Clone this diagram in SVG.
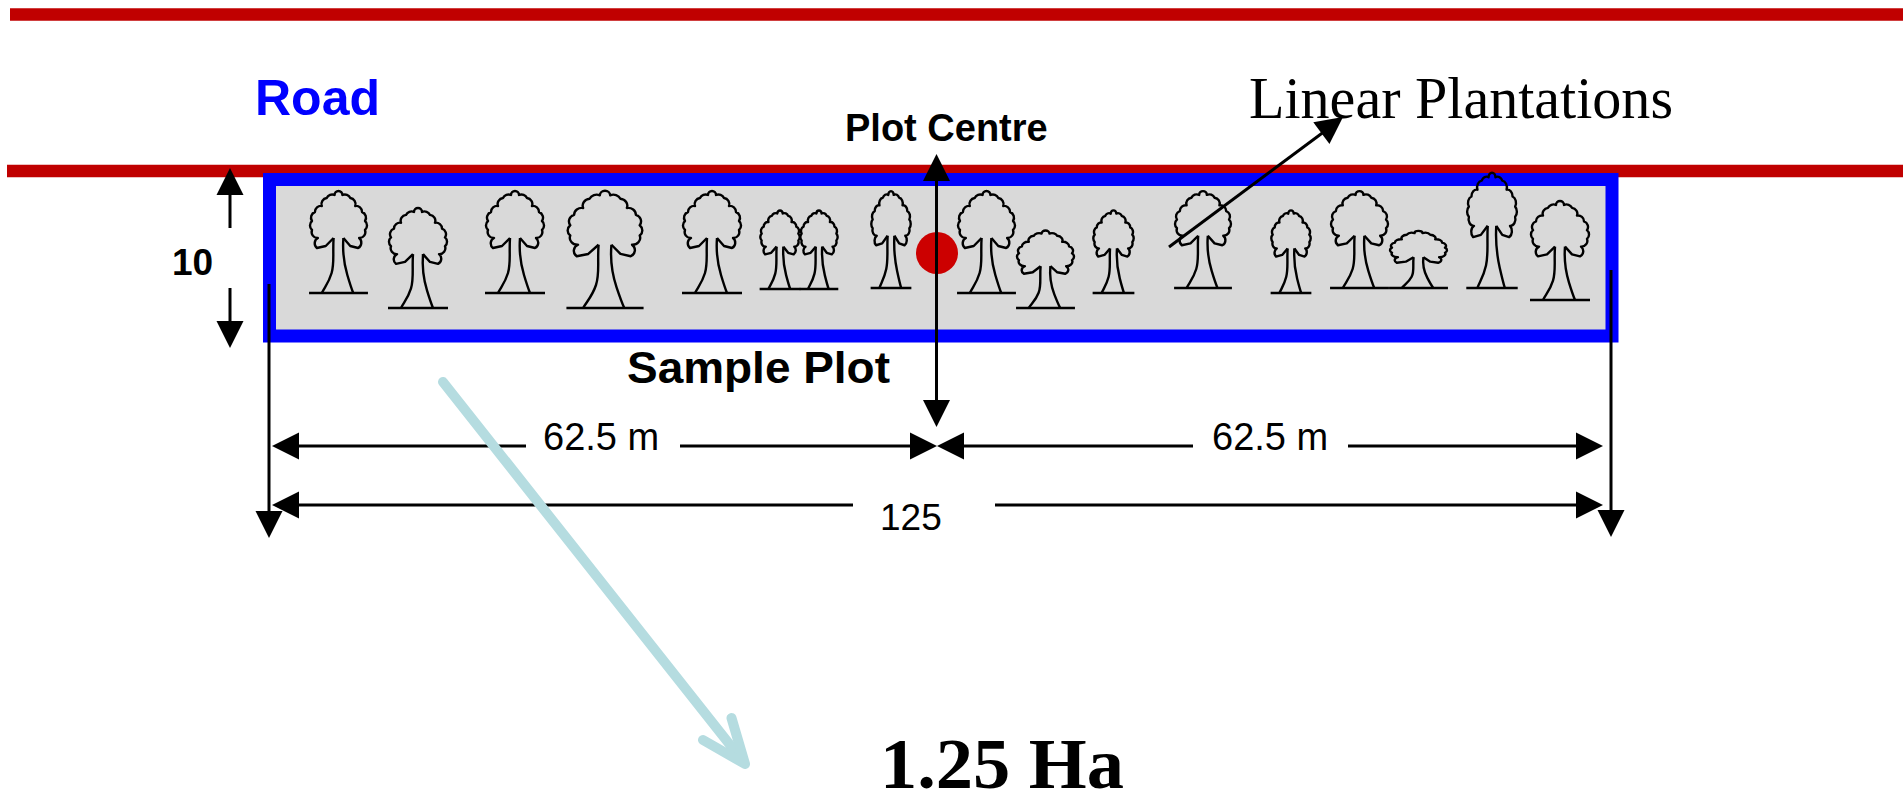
<svg xmlns="http://www.w3.org/2000/svg" xmlns:xlink="http://www.w3.org/1999/xlink" width="1903" height="804" viewBox="0 0 1903 804">
  <style>
    .road { stroke: #c00000; stroke-width: 12.5; fill: none; }
    .plot { fill: #d9d9d9; stroke: #0000ff; stroke-width: 13; }
    #tree path { fill: none; stroke: #000; stroke-width: 2.4; stroke-linejoin: round; vector-effect: non-scaling-stroke; }
    .dim { stroke: #000; stroke-width: 3; fill: none; }
    .head { fill: #000; }
    .sans { font-family: "Liberation Sans", Arial, sans-serif; }
    .serif { font-family: "Liberation Serif", "Times New Roman", serif; }
    .b { font-weight: bold; }
  </style>
  <defs>
    <!-- generic tree: canopy 56 wide (x -28..28), top at y 0, ground at y 100 -->
    <g id="tree" fill="none" stroke="#000" stroke-width="2.4">
      <path d="M-5,45 L-13,53 L-22,55 A6,6 0 0 1 -21,45 A6,6 0 0 1 -27,37 A6,6 0 0 1 -27,28 A6,6 0 0 1 -24,19 A6,6 0 0 1 -17,13 A6,6 0 0 1 -12,5 A6,6 0 0 1 -4,2 A4,4 0 0 1 4,2 A6,6 0 0 1 12,5 A6,6 0 0 1 17,13 A6,6 0 0 1 24,19 A6,6 0 0 1 27,28 A6,6 0 0 1 27,37 A6,6 0 0 1 21,45 A6,6 0 0 1 20,55 L12,53 L5,45" vector-effect="non-scaling-stroke"/>
      <path d="M-5,45 C-6,60 -4,70 -7,80 S-14,94 -17,100" vector-effect="non-scaling-stroke"/>
      <path d="M5,45 C4,58 6,72 9,82 S13,95 15,100" vector-effect="non-scaling-stroke"/>
      <path d="M-30,100 H30" vector-effect="non-scaling-stroke"/>
    </g>
    <!-- solid arrowhead pointing along +x, tip at origin -->
    <path id="ah" d="M0,0 L-27,-13.5 L-27,13.5 Z"/>
  </defs>

  <!-- road edges -->
  <g id="road">
    <line class="road" x1="10" y1="14.5" x2="1903" y2="14.5"/>
    <line class="road" x1="7" y1="171" x2="1903" y2="171"/>
  </g>

  <!-- sample plot strip with trees -->
  <g id="sample-plot">
    <rect class="plot" x="269.5" y="179.5" width="1342.5" height="156.5"/>
    <g class="trees">
      <use xlink:href="#tree" transform="translate(338.5,193) scale(0.982,1)"/>
      <use xlink:href="#tree" transform="translate(418,210) scale(1,0.98)"/>
      <use xlink:href="#tree" transform="translate(515,193) scale(1,1)"/>
      <use xlink:href="#tree" transform="translate(605,193) scale(1.286,1.15)"/>
      <use xlink:href="#tree" transform="translate(712,193) scale(1,1)"/>
      <use xlink:href="#tree" transform="translate(780,212) scale(0.679,0.77)"/>
      <use xlink:href="#tree" transform="translate(819,212) scale(0.643,0.77)"/>
      <use xlink:href="#tree" transform="translate(891,193) scale(0.679,0.95)"/>
      <use xlink:href="#tree" transform="translate(986.5,193) scale(0.982,1)"/>
      <use xlink:href="#tree" transform="translate(1045.5,232) scale(0.982,0.76)"/>
      <use xlink:href="#tree" transform="translate(1113.5,212) scale(0.696,0.81)"/>
      <use xlink:href="#tree" transform="translate(1203,193) scale(0.964,0.95)"/>
      <use xlink:href="#tree" transform="translate(1291,212) scale(0.679,0.81)"/>
      <use xlink:href="#tree" transform="translate(1359.5,193) scale(0.982,0.95)"/>
      <use xlink:href="#tree" transform="translate(1418.5,232) scale(0.982,0.56)"/>
      <use xlink:href="#tree" transform="translate(1492,175) scale(0.857,1.13)"/>
      <use xlink:href="#tree" transform="translate(1560,203) scale(1,0.97)"/>
    </g>
  </g>

  <!-- plot centre marker -->
  <g id="plot-centre">
    <circle cx="937" cy="253" r="21" fill="#cc0000"/>
  </g>

  <!-- dimension and leader lines -->
  <g id="connectors">
    <!-- width of strip: 10 -->
    <line class="dim" x1="230" y1="192" x2="230" y2="228"/>
    <use xlink:href="#ah" class="head" transform="translate(230,168) rotate(-90)"/>
    <line class="dim" x1="230" y1="288" x2="230" y2="324"/>
    <use xlink:href="#ah" class="head" transform="translate(230,348) rotate(90)"/>

    <!-- plot centre axis -->
    <line class="dim" x1="936.5" y1="178" x2="936.5" y2="403"/>
    <use xlink:href="#ah" class="head" transform="translate(936.5,154) rotate(-90)"/>
    <use xlink:href="#ah" class="head" transform="translate(936.5,427) rotate(90)"/>

    <!-- leader to label -->
    <line class="dim" x1="1169" y1="247" x2="1325" y2="131" stroke-width="2.5"/>
    <use xlink:href="#ah" class="head" transform="translate(1343,117) rotate(-36.8)"/>

    <!-- extension lines at both ends -->
    <line class="dim" x1="269" y1="284" x2="269" y2="514"/>
    <use xlink:href="#ah" class="head" transform="translate(269,538) rotate(90)"/>
    <line class="dim" x1="1611" y1="270" x2="1611" y2="513"/>
    <use xlink:href="#ah" class="head" transform="translate(1611,537) rotate(90)"/>

    <!-- half lengths -->
    <line class="dim" x1="296" y1="446" x2="526" y2="446"/>
    <use xlink:href="#ah" class="head" transform="translate(272,446) rotate(180)"/>
    <line class="dim" x1="680" y1="446" x2="913" y2="446"/>
    <use xlink:href="#ah" class="head" transform="translate(937,446)"/>
    <line class="dim" x1="961" y1="446" x2="1193" y2="446"/>
    <use xlink:href="#ah" class="head" transform="translate(937,446) rotate(180)"/>
    <line class="dim" x1="1348" y1="446" x2="1579" y2="446"/>
    <use xlink:href="#ah" class="head" transform="translate(1603,446)"/>

    <!-- full length -->
    <line class="dim" x1="296" y1="505" x2="853" y2="505"/>
    <use xlink:href="#ah" class="head" transform="translate(272,505) rotate(180)"/>
    <line class="dim" x1="995" y1="505" x2="1579" y2="505"/>
    <use xlink:href="#ah" class="head" transform="translate(1603,505)"/>

    <!-- pointer to area -->
    <g fill="none" stroke="#b5dce0" stroke-width="10" stroke-linecap="round" stroke-linejoin="round">
      <line x1="443" y1="382" x2="742" y2="760"/>
      <polyline points="731.5,718 745,764 703,740"/>
    </g>
  </g>

  <!-- labels -->
  <g id="labels">
    <text class="sans b" x="255" y="115" font-size="50" fill="#0000ff">Road</text>
    <text class="sans b" x="845" y="141" font-size="38">Plot Centre</text>
    <text class="serif" x="1249" y="118" font-size="60" textLength="424" lengthAdjust="spacingAndGlyphs">Linear Plantations</text>
    <text class="sans b" x="172" y="275" font-size="37">10</text>
    <text class="sans b" x="627" y="383" font-size="45" textLength="263" lengthAdjust="spacingAndGlyphs">Sample Plot</text>
    <text class="sans" x="543" y="450" font-size="38">62.5 m</text>
    <text class="sans" x="1212" y="450" font-size="38">62.5 m</text>
    <text class="sans" x="880" y="530" font-size="37">125</text>
    <text class="serif b" x="880" y="788" font-size="72" textLength="244" lengthAdjust="spacingAndGlyphs">1.25 Ha</text>
  </g>
</svg>
